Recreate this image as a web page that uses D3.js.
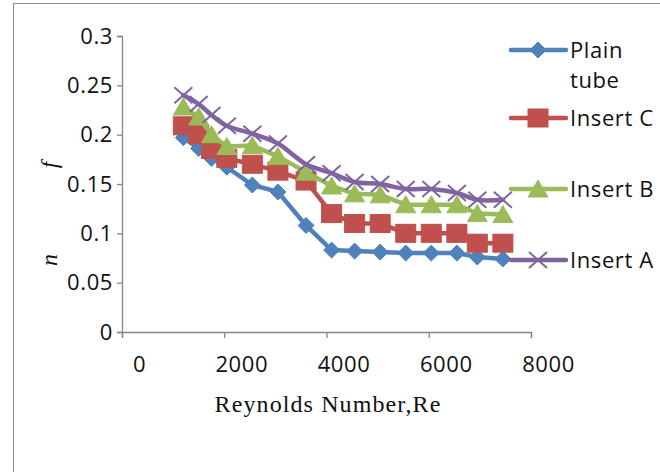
<!DOCTYPE html>
<html><head><meta charset="utf-8">
<script src="https://cdn.jsdelivr.net/npm/d3@7"></script>
<style>
html,body{margin:0;padding:0;background:#fff;}
svg{display:block;}
</style></head>
<body>
<svg id="chart" width="660" height="472"></svg>
<script>
// ---- data ----
const reynolds = [1200, 1500, 1750, 2050, 2550, 3050, 3600, 4100, 4550, 5050, 5550, 6050, 6550, 6950, 7450];
const plainTube = [0.197, 0.186, 0.176, 0.167, 0.149, 0.142, 0.108, 0.083, 0.082, 0.081, 0.080, 0.080, 0.080, 0.076, 0.074];
const insertC   = [0.209, 0.200, 0.185, 0.176, 0.170, 0.163, 0.153, 0.120, 0.110, 0.110, 0.100, 0.100, 0.100, 0.090, 0.090];
const insertB   = [0.228, 0.218, 0.200, 0.188, 0.189, 0.178, 0.162, 0.148, 0.140, 0.139, 0.129, 0.129, 0.129, 0.120, 0.119];
const insertA   = [0.240, 0.231, 0.220, 0.209, 0.201, 0.191, 0.170, 0.161, 0.152, 0.150, 0.145, 0.145, 0.141, 0.134, 0.134];
const seriesNames = ["Plain tube", "Insert C", "Insert B", "Insert A"];
const xTicks = [0, 2000, 4000, 6000, 8000];
const yTicks = [0, 0.05, 0.1, 0.15, 0.2, 0.25, 0.3];
const xTitle = "Reynolds Number,Re";

const series = [
  {name: seriesNames[0], values: plainTube, color: "#4F81BD", marker: "diamond", smooth: false},
  {name: seriesNames[1], values: insertC,   color: "#C0504D", marker: "square",  smooth: false},
  {name: seriesNames[2], values: insertB,   color: "#9BBB59", marker: "triangle", smooth: false},
  {name: seriesNames[3], values: insertA,   color: "#8064A2", marker: "x",       smooth: true}
];

const svg = d3.select("#chart");
const axisColor = "#868686";
const sansFont = "'Open Sans', sans-serif";

// chart frame
svg.append("rect").attr("x", 13.5).attr("y", 3.5).attr("width", 700).attr("height", 500)
  .attr("fill", "none").attr("stroke", "#8c8c8c").attr("stroke-width", 1);

const x = d3.scaleLinear().domain([0, 8000]).range([122, 531]);
const y = d3.scaleLinear().domain([0, 0.3]).range([332, 36]);

// Y axis
const yAxis = svg.append("g").attr("transform", `translate(${x(0)},0)`)
  .call(d3.axisLeft(y).tickValues(yTicks).tickSize(5).tickPadding(4).tickFormat(d => d3.format("")(+d.toFixed(2))));
yAxis.select(".domain").attr("stroke", axisColor).attr("stroke-width", 1.3);
yAxis.selectAll(".tick line").attr("stroke", axisColor).attr("stroke-width", 1.3);
yAxis.selectAll(".tick text").attr("font-family", sansFont).attr("font-size", 22)
  .attr("letter-spacing", 0.6).attr("fill", "#111");

// X axis
const xAxis = svg.append("g").attr("transform", `translate(0,${y(0)})`)
  .call(d3.axisBottom(x).tickValues(xTicks).tickSize(6).tickPadding(18).tickFormat(d3.format("d")));
xAxis.select(".domain").attr("stroke", axisColor).attr("stroke-width", 1.3);
xAxis.selectAll(".tick line").attr("stroke", axisColor).attr("stroke-width", 1.3);
xAxis.selectAll(".tick text").attr("font-family", sansFont).attr("font-size", 22)
  .attr("letter-spacing", 0.6).attr("fill", "#111").attr("dx", 17);

// axis titles
svg.append("text").attr("x", 328).attr("y", 412).attr("text-anchor", "middle")
  .attr("font-family", "'Liberation Serif', 'Times New Roman', serif").attr("font-size", 24)
  .attr("letter-spacing", 1.1).attr("fill", "#111").text(xTitle);
svg.append("text").attr("transform", "translate(57,165) rotate(-90)").attr("text-anchor", "middle")
  .attr("font-family", "'Liberation Serif', 'Times New Roman', serif").attr("font-style", "italic")
  .attr("font-size", 24).attr("fill", "#111").text("f");
svg.append("text").attr("transform", "translate(57,260) rotate(-90)").attr("text-anchor", "middle")
  .attr("font-family", "'Liberation Serif', 'Times New Roman', serif").attr("font-style", "italic")
  .attr("font-size", 24).attr("fill", "#111").text("n");

// markers
function drawMarker(g, type, color) {
  if (type === "diamond") {
    g.append("path").attr("d", "M0,-8L8,0L0,8L-8,0Z").attr("fill", color).attr("stroke", color).attr("stroke-width", 1);
  } else if (type === "square") {
    g.append("rect").attr("x", -10).attr("y", -9).attr("width", 20).attr("height", 18)
      .attr("fill", color).attr("stroke", color).attr("stroke-width", 1);
  } else if (type === "triangle") {
    g.append("path").attr("d", "M0,-9L10,8L-10,8Z").attr("fill", color).attr("stroke", color).attr("stroke-width", 1);
  } else if (type === "x") {
    g.append("path").attr("d", "M-9,-8L9,8M-9,8L9,-8").attr("fill", "none").attr("stroke", color).attr("stroke-width", 2);
  }
}

const plot = svg.append("g");
series.forEach(s => {
  const pts = reynolds.map((r, i) => [r, s.values[i]]);
  const line = d3.line().x(d => x(d[0])).y(d => y(d[1]))
    .curve(s.smooth ? d3.curveCatmullRom.alpha(0.5) : d3.curveLinear);
  const g = plot.append("g");
  g.append("path").datum(pts).attr("d", line).attr("fill", "none")
    .attr("stroke", s.color).attr("stroke-width", 4.5).attr("stroke-linejoin", "round").attr("stroke-linecap", "round");
  pts.forEach(p => {
    const mg = g.append("g").attr("transform", `translate(${x(p[0])},${y(p[1])})`);
    drawMarker(mg, s.marker, s.color);
  });
});

// legend
const legendY = [50, 118, 189, 260];
const legend = svg.append("g");
series.forEach((s, i) => {
  const ly = legendY[i];
  legend.append("line").attr("x1", 511).attr("x2", 566).attr("y1", ly).attr("y2", ly)
    .attr("stroke", s.color).attr("stroke-width", 4.5).attr("stroke-linecap", "round");
  const mg = legend.append("g").attr("transform", `translate(538,${ly})`);
  drawMarker(mg, s.marker, s.color);
  const words = s.name === "Plain tube" ? ["Plain", "tube"] : [s.name];
  const t = legend.append("text").attr("x", 570).attr("y", ly)
    .attr("font-family", sansFont).attr("font-size", 22).attr("letter-spacing", 0.6).attr("fill", "#111");
  words.forEach((w, k) => {
    t.append("tspan").attr("x", 570).attr("dy", k === 0 ? "0.36em" : 30).text(w);
  });
});
</script>
</body></html>
